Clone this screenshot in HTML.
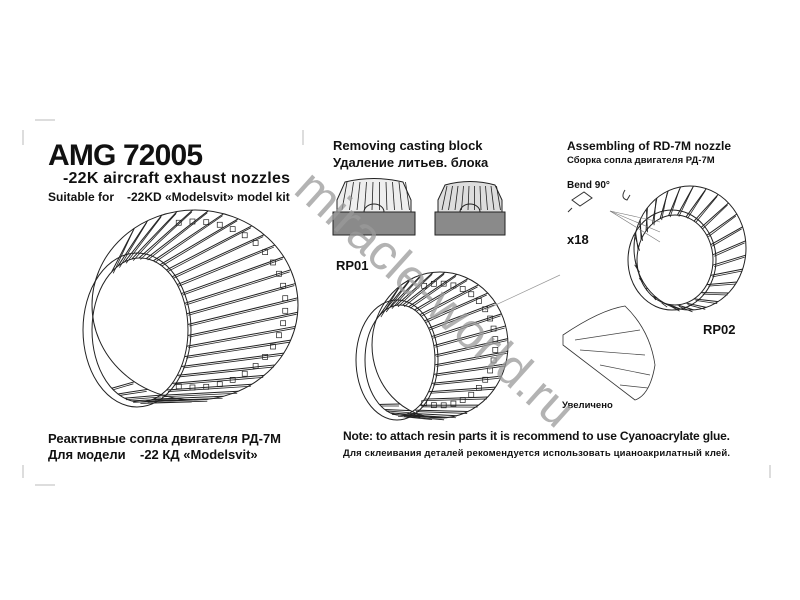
<!DOCTYPE html><html><head><meta charset="utf-8"><style>
body{margin:0;background:#fff}
svg{display:block}
text{font-family:"Liberation Sans","Noto Sans CJK SC",sans-serif;font-weight:bold;fill:#111}
</style></head><body>
<svg id="s" width="800" height="600" viewBox="0 0 800 600">
<g stroke="#bbb" stroke-width="1">
<line x1="23" y1="130" x2="23" y2="145"/><line x1="303" y1="130" x2="303" y2="145"/>
<line x1="35" y1="120" x2="55" y2="120"/><line x1="23" y1="465" x2="23" y2="478"/>
<line x1="35" y1="485" x2="55" y2="485"/><line x1="770" y1="465" x2="770" y2="478"/>
</g>
<text x="48" y="165" font-size="30" textLength="155">AMG 72005</text>
<text x="63" y="183" font-size="16" textLength="227">-22K aircraft exhaust nozzles</text>
<text x="48" y="201" font-size="12">Suitable for<tspan x="127">-22KD «Modelsvit» model kit</tspan></text>
<text x="333" y="150" font-size="13">Removing casting block</text>
<text x="333" y="167" font-size="13">Удаление литьев. блока</text>
<text x="567" y="150" font-size="12">Assembling of RD-7M nozzle</text>
<text x="567" y="163" font-size="9.5">Сборка сопла двигателя РД-7М</text>
<text x="567" y="188" font-size="10">Bend 90°</text>
<text x="567" y="244" font-size="13">x18</text>
<text x="336" y="270" font-size="13">RP01</text>
<text x="703" y="334" font-size="13">RP02</text>
<text x="562" y="408" font-size="9.5">Увеличено</text>
<text x="48" y="443" font-size="13">Реактивные сопла двигателя РД-7М</text>
<text x="48" y="459" font-size="13">Для модели<tspan x="140">-22 КД «Modelsvit»</tspan></text>
<text x="343" y="440" font-size="12" textLength="387">Note: to attach resin parts it is recommend to use Cyanoacrylate glue.</text>
<text x="343" y="456" font-size="9.5" textLength="387">Для склеивания деталей рекомендуется использовать цианоакрилатный клей.</text>
<g stroke="#222" stroke-width="1">
<rect x="333" y="212" width="82" height="23" fill="#8a8a8a"/>
<path d="M337 212 L337 200 L345 182 Q374 175 403 182 L411 200 L411 212 Z" fill="#eee"/>
<rect x="435" y="212" width="70" height="23" fill="#8a8a8a"/>
<path d="M438 212 L438 200 L445 185 Q470 178 495 185 L502 200 L502 212 Z" fill="#ddd"/>
<path d="M364 212 A10 8 0 0 1 384 212 M460 212 A10 8 0 0 1 480 212" fill="none"/>
</g>
<g id="bl" stroke="#222" stroke-width="0.8"></g>
<g id="nz" fill="none" stroke="#222" stroke-width="1"></g>
<line x1="485" y1="310" x2="560" y2="275" stroke="#999" stroke-width="0.7"/>
<g stroke="#777" stroke-width="0.6"><line x1="610" y1="211" x2="660" y2="222"/><line x1="610" y1="211" x2="660" y2="232"/><line x1="610" y1="211" x2="660" y2="242"/></g>
<path d="M572 200 l12 -8 l8 6 l-12 8 z M572 208 l-4 4" fill="none" stroke="#333"/>
<path d="M625 190 q-5 8 2 10 l3 -5" fill="none" stroke="#333"/>
<path d="M563 335 Q600 310 625 306 Q650 330 655 365 Q650 395 635 400 L563 345 Z" fill="#fff" stroke="#333" stroke-width="0.8"/>
<g stroke="#444" stroke-width="0.7"><line x1="575" y1="340" x2="640" y2="330"/><line x1="580" y1="350" x2="645" y2="355"/><line x1="600" y1="365" x2="650" y2="375"/><line x1="620" y1="385" x2="648" y2="388"/></g>
<text x="292" y="192" font-size="50" style="font-weight:normal;fill:#9a9a9a;opacity:.75" transform="rotate(42 292 192)">miracle-world.ru</text>
</svg>
<script>
var ns="http://www.w3.org/2000/svg",g=document.getElementById('nz'),bl=document.getElementById('bl');
function el(p,t,a){var e=document.createElementNS(ns,t);for(var k in a)e.setAttribute(k,a[k]);p.appendChild(e);return e;}
function noz(o,i,n,a0,a1,sq){
 el(g,'ellipse',{cx:o[0],cy:o[1],rx:o[2],ry:o[3]});
 el(g,'ellipse',{cx:i[0],cy:i[1],rx:i[2],ry:i[3]});
 el(g,'ellipse',{cx:i[0]-3,cy:i[1],rx:i[2]+6,ry:i[3]+5});
 for(var k=0;k<n;k++){var a=a0+(a1-a0)*k/(n-1);var c=Math.cos(a),s=Math.sin(a);
  var x1=i[0]+i[2]*c,y1=i[1]+i[3]*s,x2=o[0]+o[2]*c,y2=o[1]+o[3]*s;
  el(g,'line',{x1:x1,y1:y1,x2:x2,y2:y2});
  el(g,'line',{x1:x1+1.5,y1:y1+1.5,x2:x2-1,y2:y2+2,'stroke-width':0.8});
  if(sq&&c>-0.3){el(g,'rect',{x:x2-12*c-3,y:y2-12*s-3,width:5,height:5,'stroke-width':0.7});}
 }}
noz([195,305,103,95],[140,330,48,72],30,-2.2,2.2,1);
noz([440,345,68,73],[400,360,35,55],26,-2.2,2.2,1);
noz([690,248,56,62],[675,260,38,45],26,-2.9,2.9,0);
for(var k=0;k<10;k++){el(bl,'line',{x1:342+k*7.5,y1:210,x2:347+k*6.5,y2:182});el(bl,'line',{x1:442+k*6.5,y1:210,x2:447+k*5.5,y2:186});}
</script>
</body></html>
